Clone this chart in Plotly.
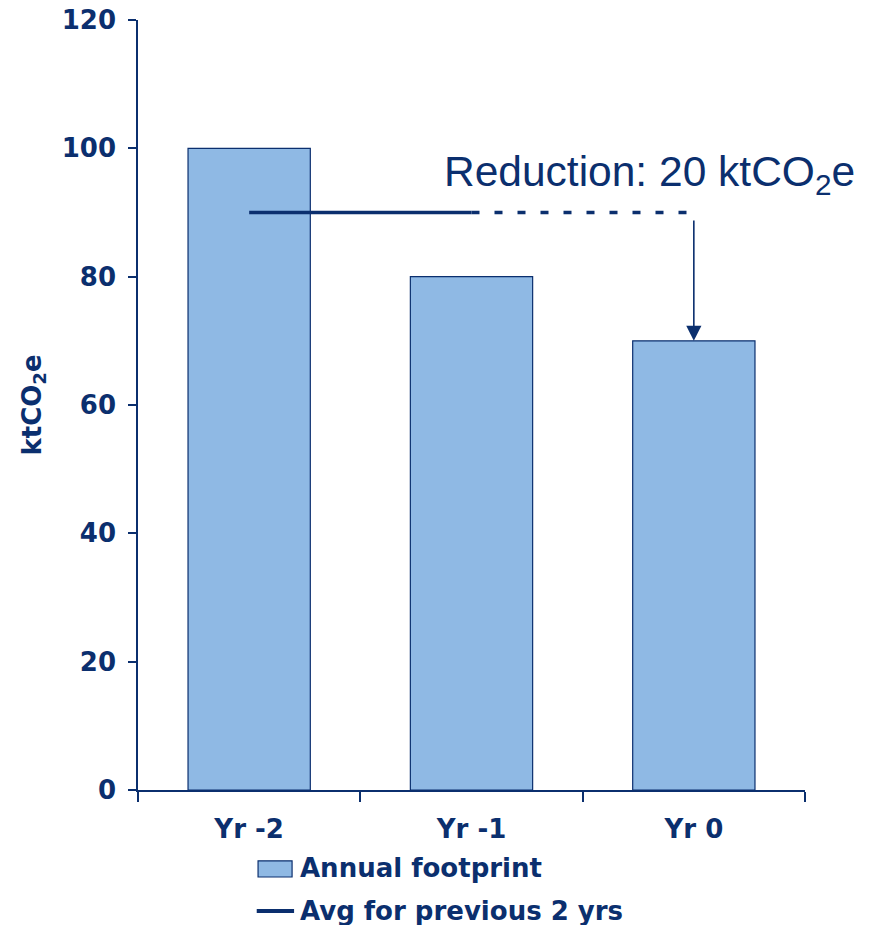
import plotly.graph_objects as go

categories = ["Yr -2", "Yr -1", "Yr 0"]
annual_footprint = [100, 80, 70]
avg_prev_two = (annual_footprint[0] + annual_footprint[1]) / 2  # 90
y_ticks = [0, 20, 40, 60, 80, 100, 120]
reduction = avg_prev_two - annual_footprint[2]  # 20

NAVY = "#0b2f6e"
BAR = "#8fb9e4"
BOLD = dict(family="DejaVu Sans", size=26, color=NAVY, weight="bold")

fig = go.Figure()
fig.add_trace(go.Bar(
    x=categories, y=annual_footprint, width=0.55,
    marker=dict(color=BAR, line=dict(color=NAVY, width=1.2)),
    name="Annual footprint", showlegend=False,
))
fig.add_trace(go.Scatter(
    x=categories[:2], y=[avg_prev_two, avg_prev_two], mode="lines",
    line=dict(color=NAVY, width=3.5), name="Avg for previous 2 yrs", showlegend=False,
))
fig.add_trace(go.Scatter(
    x=categories[1:], y=[avg_prev_two, avg_prev_two], mode="lines",
    line=dict(color=NAVY, width=3.5, dash="8px,15px"), showlegend=False,
))

fig.add_annotation(
    x=categories[2], y=annual_footprint[2], ax=categories[2], ay=avg_prev_two - 1,
    xref="x", yref="y", axref="x", ayref="y", text="", showarrow=True,
    arrowhead=2, arrowsize=1.9, arrowwidth=1.6, arrowcolor=NAVY, standoff=0,
)
fig.add_annotation(
    x=1.078, y=96, xref="paper", yref="y", xanchor="right", yanchor="middle",
    text=f"Reduction: {reduction:.0f} ktCO<sub>2</sub>e", showarrow=False,
    font=dict(family="Liberation Sans", size=42.5, color=NAVY),
)

# custom legend
fig.add_shape(type="rect", xref="paper", yref="paper", x0=0.180, x1=0.231, y0=-0.092, y1=-0.113,
              fillcolor=BAR, line=dict(color=NAVY, width=1.2))
fig.add_annotation(x=0.24, y=-0.101, xref="paper", yref="paper", xanchor="left", yanchor="middle",
                   text="Annual footprint", showarrow=False, font=BOLD)
fig.add_shape(type="line", xref="paper", yref="paper", x0=0.178, x1=0.234, y0=-0.157, y1=-0.157,
              line=dict(color=NAVY, width=4))
fig.add_annotation(x=0.24, y=-0.157, xref="paper", yref="paper", xanchor="left", yanchor="middle",
                   text="Avg for previous 2 yrs", showarrow=False, font=BOLD)

fig.update_layout(
    width=870, height=925,
    margin=dict(l=138, r=65, t=20, b=135, autoexpand=False),
    plot_bgcolor="white", paper_bgcolor="white",
    showlegend=False,
)
fig.update_xaxes(
    type="category", range=[-0.5, 2.5], showline=True, linecolor=NAVY, linewidth=1.5,
    ticks="outside", tickson="boundaries", ticklen=10, tickcolor=NAVY, tickwidth=1.5,
    tickfont=BOLD, ticklabelstandoff=15, showgrid=False, zeroline=False,
)
fig.update_yaxes(
    range=[0, 120], tickvals=y_ticks, showline=True, linecolor=NAVY, linewidth=1.5,
    ticks="outside", ticklen=8, tickcolor=NAVY, tickwidth=1.5,
    tickfont=BOLD, ticklabelstandoff=7, showgrid=False, zeroline=False,
    title=dict(text="ktCO<sub>2</sub>e", standoff=13, font=BOLD),
)

fig.write_html("out.html", config={"displayModeBar": False},
               post_script="document.body.style.margin='0';")
